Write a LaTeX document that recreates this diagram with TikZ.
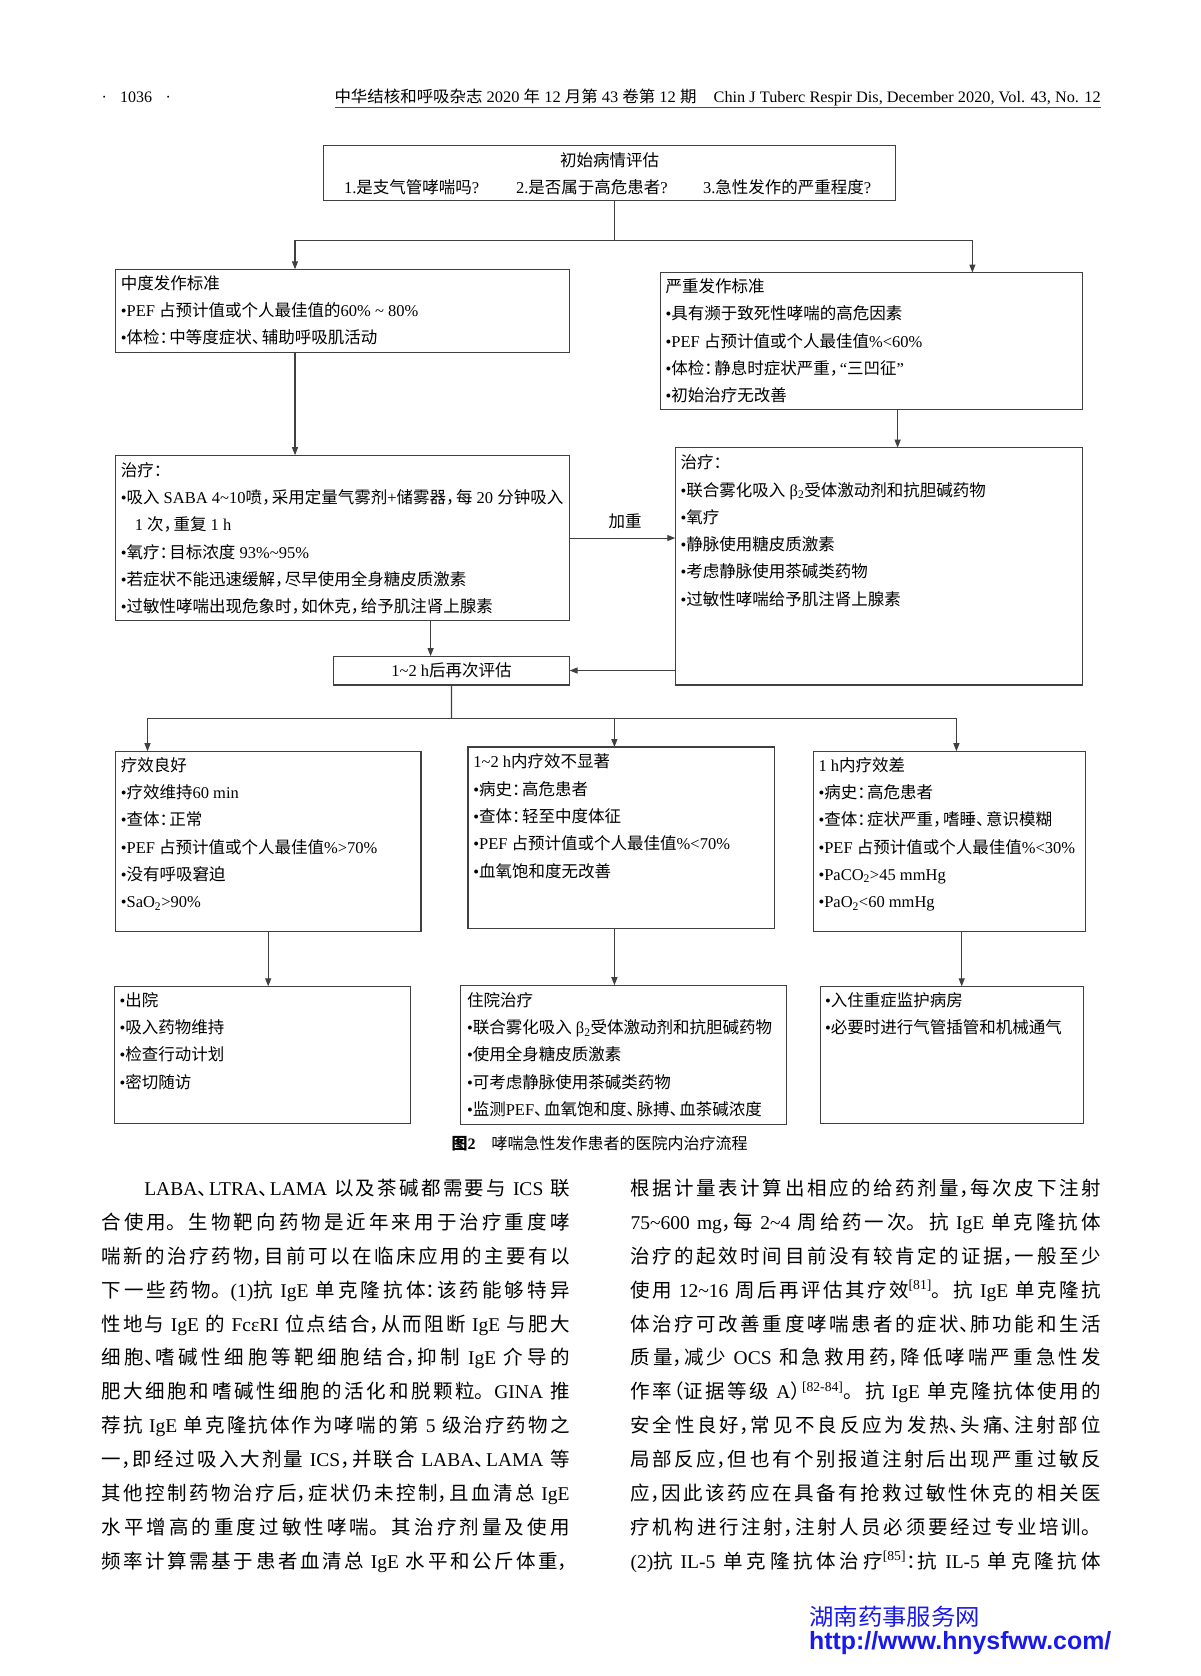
\documentclass[tikz,border=0pt]{standalone}
\usepackage{fontspec}
\usepackage{graphicx}
\usetikzlibrary{arrows.meta}
\setmainfont{Liberation Serif}
\newfontfamily\cjkfont{Noto Sans CJK SC}
\newfontfamily\urlfont{Liberation Sans}
\newcommand\curcjk{\cjkfont}
\newcommand\curlatin{\rmfamily}
\XeTeXinterchartokenstate=1
\newXeTeXintercharclass\CJKclass
\newcount\cjkc
\newcommand\setcjkrange[2]{\cjkc=#1\relax
  \loop\XeTeXcharclass\cjkc=\CJKclass\relax
  \ifnum\cjkc<#2\relax\advance\cjkc by 1\relax\repeat}
\setcjkrange{"3000}{"303F}
\setcjkrange{"4E00}{"9FFF}
\setcjkrange{"FF00}{"FFEF}
\XeTeXinterchartoks 0 \CJKclass = {\curcjk}
\XeTeXinterchartoks 4095 \CJKclass = {\curcjk}
\XeTeXinterchartoks \CJKclass 0 = {\curlatin}
\XeTeXinterchartoks \CJKclass 4095 = {\curlatin}
\XeTeXlinebreaklocale "zh"
\XeTeXlinebreakskip=0pt plus 3pt minus 0.5pt
\newcommand\zdou{，\kern-.4em\relax}
\newcommand\zdun{、\kern-.4em\relax}
\newcommand\zmh{：\kern-.4em\relax}
\newcommand\zlp{\kern-.4em（}
\newcommand\zrp{）\kern-.4em\relax}
\definecolor{wmblue}{RGB}{25,25,235}
\newcommand\mkbox[5]{\node[flowbox, minimum width=#4pt, minimum height=#5pt] (#1) at (#2,#3) {};}
\newcommand\mktxt[4]{\node[dtxt] (#1) at (#2,#3-19.11) {\strut #4};}
\newcommand\bodyline[5]{\node[bodytxt, text width=#4pt] (#1) at (#2,1195.7+#3*33.85) {\parfillskip=0pt\relax\tolerance=10000\relax #5\par};}
\begin{document}
\begin{tikzpicture}[x=1pt,y=-1pt,
  flowbox/.style={draw=black!75, line width=1.1pt, inner sep=0pt, outer sep=0pt, anchor=north west},
  dtxt/.style={inner sep=0pt, outer sep=0pt, anchor=north west, align=left, font=\fontsize{16.5}{27.3}\selectfont},
  conn/.style={draw=black!75, line width=1.1pt},
  arr/.style={conn, -{Triangle[length=8pt,width=6pt]}},
  bodytxt/.style={inner sep=0pt, outer sep=0pt, anchor=base west, align=justify, font=\fontsize{19.5}{24}\selectfont},
  hdr/.style={inner sep=0pt, outer sep=0pt, font=\fontsize{16}{18}\selectfont}]
\fill[white] (0,0) rectangle (1200,1676);
\useasboundingbox (0,0) rectangle (1200,1676);
% header
\node[hdr, anchor=base west] (pg) at (101.5,102) {\makebox[69.5pt][s]{· 1036 ·}};
\node[hdr, anchor=base west] (hj) at (334.5,102) {\resizebox{362pt}{\height}{中华结核和呼吸杂志 2020 年 12 月第 43 卷第 12 期}};
\node[hdr, anchor=base east] (he) at (1100.7,102) {\resizebox{387pt}{\height}{Chin J Tuberc Respir Dis, December 2020, Vol. 43, No. 12}};
\draw[line width=1.2pt, black!70] (hj.base west) ++(0,5.2) -- ++(766.2,0);
% boxes
\mkbox{T}{323.8}{145.3}{571.7}{55.6}
\mkbox{A}{115.4}{269.3}{454.2}{83.3}
\mkbox{B}{660.4}{272.5}{422.1}{136.8}
\mkbox{C}{115.4}{455.2}{454.2}{165.7}
\mkbox{D}{675.3}{447.7}{407.2}{237.3}
\node[flowbox, minimum width=236.2pt, minimum height=28.9pt, font=\fontsize{16.5}{18}\selectfont] (E) at (333.4,656.1) {1\textasciitilde 2 h后再次评估};
\mkbox{F}{115.4}{751.2}{305.6}{180.6}
\mkbox{G}{468.0}{747.0}{306.7}{181.6}
\mkbox{H}{813.2}{751.2}{272.5}{180.6}
\mkbox{I}{114.3}{986.3}{296.0}{136.8}
\mkbox{J}{460.6}{985.2}{325.9}{139.0}
\mkbox{K}{820.7}{986.3}{262.9}{136.8}
% texts
\node[dtxt, anchor=base] (t0) at (609.6,166.3) {初始病情评估};
\node[dtxt, anchor=base west] (t1) at (344,193) {1.是支气管哮喘吗?};
\node[dtxt, anchor=base west] (t2) at (516,193) {2.是否属于高危患者?};
\node[dtxt, anchor=base west] (t3) at (703,193) {3.急性发作的严重程度?};
\mktxt{At}{120.8}{289.2}{中度发作标准\\•PEF 占预计值或个人最佳值的60\% \textasciitilde{} 80\%\\•体检\zmh 中等度症状\zdun 辅助呼吸肌活动}
\mktxt{Bt}{665.7}{292.4}{严重发作标准\\•具有濒于致死性哮喘的高危因素\\•PEF 占预计值或个人最佳值\%<60\%\\•体检\zmh 静息时症状严重\zdou “三凹征”\\•初始治疗无改善}
\mktxt{Ct}{120.8}{476.2}{治疗\zmh\\•吸入 SABA 4\textasciitilde 10喷\zdou 采用定量气雾剂+储雾器\zdou 每 20 分钟吸入\\\hspace*{14pt}1 次\zdou 重复 1 h\\•氧疗\zmh 目标浓度 93\%\textasciitilde 95\%\\•若症状不能迅速缓解\zdou 尽早使用全身糖皮质激素\\•过敏性哮喘出现危象时\zdou 如休克\zdou 给予肌注肾上腺素}
\mktxt{Dt}{680.7}{468.7}{治疗\zmh\\•联合雾化吸入 β\textsubscript{2}受体激动剂和抗胆碱药物\\•氧疗\\•静脉使用糖皮质激素\\•考虑静脉使用茶碱类药物\\•过敏性哮喘给予肌注肾上腺素}
\node[dtxt, anchor=base] (jz) at (625.1,527.5) {加重};
\mktxt{Ft}{120.8}{771.1}{疗效良好\\•疗效维持60 min\\•查体\zmh 正常\\•PEF 占预计值或个人最佳值\%>70\%\\•没有呼吸窘迫\\•SaO\textsubscript{2}>90\%}
\mktxt{Gt}{473.4}{767.9}{1\textasciitilde 2 h内疗效不显著\\•病史\zmh 高危患者\\•查体\zmh 轻至中度体征\\•PEF 占预计值或个人最佳值\%<70\%\\•血氧饱和度无改善}
\mktxt{Ht}{818.5}{771.1}{1 h内疗效差\\•病史\zmh 高危患者\\•查体\zmh 症状严重\zdou 嗜睡\zdun 意识模糊\\•PEF 占预计值或个人最佳值\%<30\%\\•PaCO\textsubscript{2}>45 mmHg\\•PaO\textsubscript{2}<60 mmHg}
\mktxt{It}{119.7}{1006.2}{•出院\\•吸入药物维持\\•检查行动计划\\•密切随访}
\mktxt{Jt}{467}{1006.2}{住院治疗\\•联合雾化吸入 β\textsubscript{2}受体激动剂和抗胆碱药物\\•使用全身糖皮质激素\\•可考虑静脉使用茶碱类药物\\•监测PEF\zdun 血氧饱和度\zdun 脉搏\zdun 血茶碱浓度}
\mktxt{Kt}{825}{1006.2}{•入住重症监护病房\\•必要时进行气管插管和机械通气}
% connectors
\coordinate (jT) at (614.4,240.4);
\coordinate (xL1) at (295,240.4);
\coordinate (xR1) at (972.4,240.4);
\draw[conn] (T.south -| jT) -- (jT);
\draw[conn] (xL1) -- (xR1);
\draw[arr] (xL1) -- (A.north -| xL1);
\draw[arr] (xR1) -- (B.north -| xR1);
\coordinate (xA) at (295,0);
\draw[arr] (A.south -| xA) -- (C.north -| xA);
\coordinate (xB) at (897.6,0);
\draw[arr] (B.south -| xB) -- (D.north -| xB);
\draw[arr] (C.east) -- (C.east -| D.west);
\coordinate (xC) at (430.6,0);
\draw[arr] (C.south -| xC) -- (E.north -| xC);
\draw[arr] (D.west |- E.east) -- (E.east);
\coordinate (jE) at (451.5,718.1);
\coordinate (xF) at (147.5,718.1);
\coordinate (xG) at (614.4,718.1);
\coordinate (xH) at (956.4,718.1);
\draw[conn] (E.south) -- (jE);
\draw[conn] (xF) -- (xH);
\draw[arr] (xF) -- (F.north -| xF);
\draw[arr] (xG) -- (G.north -| xG);
\draw[arr] (xH) -- (H.north -| xH);
\coordinate (xI) at (268.2,0);
\coordinate (xJ) at (614.4,0);
\coordinate (xK) at (961.7,0);
\draw[arr] (F.south -| xI) -- (I.north -| xI);
\draw[arr] (G.south -| xJ) -- (J.north -| xJ);
\draw[arr] (H.south -| xK) -- (K.north -| xK);
% caption
\node[hdr, anchor=base] (cap) at (599.5,1149.4) {{\bfseries 图2}\hspace{1em}哮喘急性发作患者的医院内治疗流程};
% body text
\bodyline{bl1}{144.3}{0}{425.3}{LABA\zdun LTRA\zdun LAMA 以及茶碱都需要与 ICS 联}
\bodyline{bl2}{101.5}{1}{468.1}{合使用。生物靶向药物是近年来用于治疗重度哮}
\bodyline{bl3}{101.5}{2}{468.1}{喘新的治疗药物\zdou 目前可以在临床应用的主要有以}
\bodyline{bl4}{101.5}{3}{468.1}{下一些药物。(1)抗 IgE 单克隆抗体\zmh 该药能够特异}
\bodyline{bl5}{101.5}{4}{468.1}{性地与 IgE 的 FcεRI 位点结合\zdou 从而阻断 IgE 与肥大}
\bodyline{bl6}{101.5}{5}{468.1}{细胞\zdun 嗜碱性细胞等靶细胞结合\zdou 抑制 IgE 介导的}
\bodyline{bl7}{101.5}{6}{468.1}{肥大细胞和嗜碱性细胞的活化和脱颗粒。GINA 推}
\bodyline{bl8}{101.5}{7}{468.1}{荐抗 IgE 单克隆抗体作为哮喘的第 5 级治疗药物之}
\bodyline{bl9}{101.5}{8}{468.1}{一\zdou 即经过吸入大剂量 ICS\zdou 并联合 LABA\zdun LAMA 等}
\bodyline{bl10}{101.5}{9}{468.1}{其他控制药物治疗后\zdou 症状仍未控制\zdou 且血清总 IgE}
\bodyline{bl11}{101.5}{10}{468.1}{水平增高的重度过敏性哮喘。其治疗剂量及使用}
\bodyline{bl12}{101.5}{11}{468.1}{频率计算需基于患者血清总 IgE 水平和公斤体重\zdou}
\bodyline{br1}{630.5}{0}{470.2}{根据计量表计算出相应的给药剂量\zdou 每次皮下注射}
\bodyline{br2}{630.5}{1}{470.2}{75\textasciitilde 600 mg\zdou 每 2\textasciitilde 4 周给药一次。抗 IgE 单克隆抗体}
\bodyline{br3}{630.5}{2}{470.2}{治疗的起效时间目前没有较肯定的证据\zdou 一般至少}
\bodyline{br4}{630.5}{3}{470.2}{使用 12\textasciitilde 16 周后再评估其疗效\textsuperscript{[81]}。抗 IgE 单克隆抗}
\bodyline{br5}{630.5}{4}{470.2}{体治疗可改善重度哮喘患者的症状\zdun 肺功能和生活}
\bodyline{br6}{630.5}{5}{470.2}{质量\zdou 减少 OCS 和急救用药\zdou 降低哮喘严重急性发}
\bodyline{br7}{630.5}{6}{470.2}{作率\zlp 证据等级 A\zrp\textsuperscript{[82-84]}。抗 IgE 单克隆抗体使用的}
\bodyline{br8}{630.5}{7}{470.2}{安全性良好\zdou 常见不良反应为发热\zdun 头痛\zdun 注射部位}
\bodyline{br9}{630.5}{8}{470.2}{局部反应\zdou 但也有个别报道注射后出现严重过敏反}
\bodyline{br10}{630.5}{9}{470.2}{应\zdou 因此该药应在具备有抢救过敏性休克的相关医}
\bodyline{br11}{630.5}{10}{470.2}{疗机构进行注射\zdou 注射人员必须要经过专业培训。}
\bodyline{br12}{630.5}{11}{470.2}{(2)抗 IL-5 单克隆抗体治疗\textsuperscript{[85]}\zmh 抗 IL-5 单克隆抗体}
% watermark
\node[inner sep=0pt, anchor=base west, text=wmblue, font=\fontsize{23}{26}\selectfont] (wm1) at (809,1625) {\resizebox{171pt}{\height}{湖南药事服务网}};
\node[inner sep=0pt, anchor=base west, text=wmblue, font=\urlfont\bfseries\fontsize{25}{28}\selectfont] (wm2) at (809,1649.3) {\resizebox{302pt}{\height}{http://www.hnysfww.com/}};
\end{tikzpicture}
\end{document}
